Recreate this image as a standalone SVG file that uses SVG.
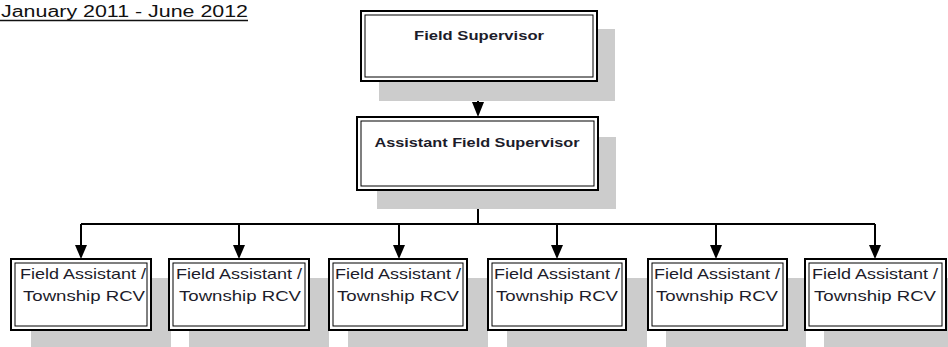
<svg xmlns="http://www.w3.org/2000/svg" width="948" height="347" viewBox="0 0 948 347">
<style>
.shadow{fill:#cccccc;stroke:none}
.outer{fill:#ffffff;stroke:#000;stroke-width:2}
.inner{fill:none;stroke:#000;stroke-width:1}
.lbl{font-family:"Liberation Sans",Arial,sans-serif;fill:#1c1c2a;text-anchor:middle}
.b{font-weight:bold;font-size:13px}
.r{font-size:15px}
.conn{stroke:#000;stroke-width:2;fill:none}
</style>
<rect width="948" height="347" fill="#ffffff"/>
<g id="title">
<text x="1" y="17" font-family="Liberation Sans, Arial, sans-serif" font-size="16" fill="#111" textLength="247" lengthAdjust="spacingAndGlyphs">January 2011 - June 2012</text>
<line x1="0" y1="20.5" x2="248" y2="20.5" stroke="#111" stroke-width="1.5"/>
</g>
<g id="connectors">
<line class="conn" x1="478" y1="81" x2="478" y2="103"/>
<path d="M472,102 L484,102 L478,117 Z" fill="#000"/>
<line class="conn" x1="478" y1="190" x2="478" y2="224"/>
<line class="conn" x1="81" y1="224" x2="875" y2="224"/>
<line class="conn" x1="81" y1="224" x2="81" y2="246"/>
<path d="M75,245 L87,245 L81,259 Z"/>
<line class="conn" x1="239" y1="224" x2="239" y2="246"/>
<path d="M233,245 L245,245 L239,259 Z"/>
<line class="conn" x1="399" y1="224" x2="399" y2="246"/>
<path d="M393,245 L405,245 L399,259 Z"/>
<line class="conn" x1="557" y1="224" x2="557" y2="246"/>
<path d="M551,245 L563,245 L557,259 Z"/>
<line class="conn" x1="716" y1="224" x2="716" y2="246"/>
<path d="M710,245 L722,245 L716,259 Z"/>
<line class="conn" x1="875" y1="224" x2="875" y2="246"/>
<path d="M869,245 L881,245 L875,259 Z"/>
</g>
<g id="field-supervisor">
<rect class="shadow" x="379" y="29" width="236" height="72"/>
<rect class="outer" x="361" y="11" width="236" height="70"/>
<rect class="inner" x="365" y="15" width="228" height="62"/>
<text class="lbl b" x="479" y="40" textLength="130" lengthAdjust="spacingAndGlyphs">Field Supervisor</text>
</g>
<g id="assistant-field-supervisor">
<rect class="shadow" x="377" y="137" width="239" height="72"/>
<rect class="outer" x="357" y="117" width="241" height="73"/>
<rect class="inner" x="361" y="121" width="233" height="65"/>
<text class="lbl b" x="477" y="147" textLength="205" lengthAdjust="spacingAndGlyphs">Assistant Field Supervisor</text>
</g>
<g id="fa1">
<rect class="shadow" x="31" y="278" width="140" height="72"/>
<rect class="outer" x="11" y="259" width="140" height="71"/>
<rect class="inner" x="15" y="263" width="132" height="63"/>
<text class="lbl r" x="83" y="279" textLength="126" lengthAdjust="spacingAndGlyphs">Field Assistant /</text>
<text class="lbl r" x="84" y="301" textLength="122" lengthAdjust="spacingAndGlyphs">Township RCV</text>
</g>
<g id="fa2">
<rect class="shadow" x="189" y="278" width="140" height="72"/>
<rect class="outer" x="169" y="259" width="140" height="71"/>
<rect class="inner" x="173" y="263" width="132" height="63"/>
<text class="lbl r" x="239" y="279" textLength="126" lengthAdjust="spacingAndGlyphs">Field Assistant /</text>
<text class="lbl r" x="240" y="301" textLength="122" lengthAdjust="spacingAndGlyphs">Township RCV</text>
</g>
<g id="fa3">
<rect class="shadow" x="348" y="278" width="140" height="72"/>
<rect class="outer" x="329" y="259" width="138" height="71"/>
<rect class="inner" x="333" y="263" width="130" height="63"/>
<text class="lbl r" x="398" y="279" textLength="126" lengthAdjust="spacingAndGlyphs">Field Assistant /</text>
<text class="lbl r" x="398" y="301" textLength="122" lengthAdjust="spacingAndGlyphs">Township RCV</text>
</g>
<g id="fa4">
<rect class="shadow" x="507" y="278" width="140" height="72"/>
<rect class="outer" x="488" y="259" width="138" height="71"/>
<rect class="inner" x="492" y="263" width="130" height="63"/>
<text class="lbl r" x="557" y="279" textLength="126" lengthAdjust="spacingAndGlyphs">Field Assistant /</text>
<text class="lbl r" x="557" y="301" textLength="122" lengthAdjust="spacingAndGlyphs">Township RCV</text>
</g>
<g id="fa5">
<rect class="shadow" x="666" y="278" width="140" height="72"/>
<rect class="outer" x="648" y="259" width="139" height="71"/>
<rect class="inner" x="652" y="263" width="131" height="63"/>
<text class="lbl r" x="717" y="279" textLength="126" lengthAdjust="spacingAndGlyphs">Field Assistant /</text>
<text class="lbl r" x="717" y="301" textLength="122" lengthAdjust="spacingAndGlyphs">Township RCV</text>
</g>
<g id="fa6">
<rect class="shadow" x="824" y="278" width="140" height="72"/>
<rect class="outer" x="805" y="259" width="141" height="71"/>
<rect class="inner" x="809" y="263" width="133" height="63"/>
<text class="lbl r" x="875" y="279" textLength="126" lengthAdjust="spacingAndGlyphs">Field Assistant /</text>
<text class="lbl r" x="875" y="301" textLength="122" lengthAdjust="spacingAndGlyphs">Township RCV</text>
</g>
</svg>
